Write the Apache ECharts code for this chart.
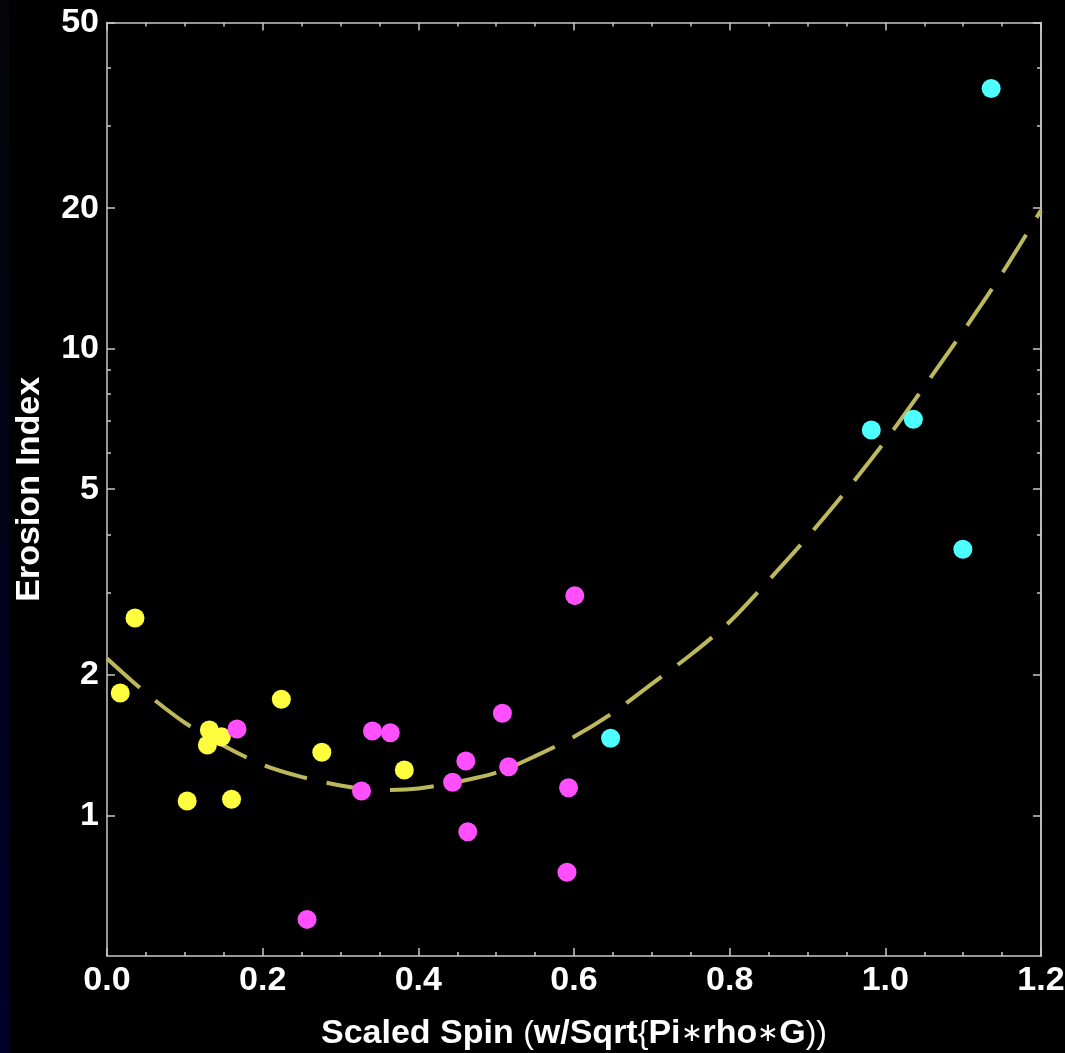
<!DOCTYPE html>
<html><head><meta charset="utf-8">
<script src="https://cdn.jsdelivr.net/npm/echarts@6/dist/echarts.min.js"></script>
<style>html,body{margin:0;padding:0;background:#000}#c{width:1065px;height:1053px}</style>
</head><body><div id="c"></div>
<script>
// ---- data ----
const yMajorTicks = [1, 2, 5, 10, 20, 50];
const yMinorTicks = [3, 4, 6, 7, 8, 9, 30, 40];

const yellowX = [0.017, 0.036, 0.103, 0.160, 0.1315, 0.147, 0.129, 0.224, 0.276, 0.382];
const yellowY = [1.83, 2.65, 1.074, 1.083, 1.525, 1.475, 1.416, 1.774, 1.366, 1.252];

const magentaX = [0.167, 0.341, 0.364, 0.327, 0.257, 0.444, 0.461, 0.4635, 0.508, 0.516, 0.601, 0.593, 0.591];
const magentaY = [1.532, 1.517, 1.504, 1.128, 0.599, 1.178, 1.309, 0.923, 1.656, 1.272, 2.958, 1.147, 0.756];

const cyanX = [0.647, 0.982, 1.036, 1.0996, 1.136];
const cyanY = [1.464, 6.70, 7.06, 3.72, 36.1];

const fitX = [0, 0.05, 0.1, 0.15, 0.2, 0.25, 0.3, 0.35, 0.4, 0.45, 0.5, 0.55, 0.6, 0.65, 0.7, 0.75, 0.8, 0.85, 0.9, 0.95, 1.0, 1.05, 1.1, 1.15, 1.2];
const fitY = [2.17, 1.83, 1.58, 1.41, 1.285, 1.21, 1.16, 1.134, 1.143, 1.18, 1.235, 1.34, 1.475, 1.66, 1.915, 2.21, 2.60, 3.19, 3.95, 4.97, 6.35, 8.3, 10.9, 14.5, 19.8];

const pairs = (xs, ys) => xs.map((x, i) => [x, ys[i]]);

// ---- styles ----
const FRAME = '#c8c8c8';
const FONT = 'Liberation Sans';
const lineStyle = { color: FRAME, width: 1.5 };

function xAx(pos, main) {
  return {
    type: 'value', position: pos, min: 0, max: 1.2, interval: 0.2,
    axisLine: { show: true, onZero: false, lineStyle },
    axisTick: { show: true, inside: true, length: 8, lineStyle },
    minorTick: { show: true, splitNumber: 4, length: 4, lineStyle },
    splitLine: { show: false }, minorSplitLine: { show: false },
    axisLabel: main ? {
      show: true, margin: 8, color: '#fff', fontFamily: FONT, fontWeight: 'bold', fontSize: 34,
      formatter: v => v.toFixed(1)
    } : { show: false },
    name: main ? 'Scaled Spin {p|(}w/Sqrt{p|{}Pi{s|∗}rho{s|∗}G{p|))}' : '',
    nameLocation: 'middle', nameGap: 61,
    nameTextStyle: {
      color: '#fff', fontFamily: FONT, fontWeight: 'bold', fontSize: 34,
      rich: {
        p: { color: '#fff', fontFamily: FONT, fontWeight: 'normal', fontSize: 32 },
        s: { color: '#fff', fontFamily: FONT, fontWeight: 'normal', fontSize: 26 }
      }
    }
  };
}
function yAx(pos, ticks, len, labels, name) {
  return {
    type: 'log', logBase: 10, position: pos, min: 0.5, max: 50,
    axisLine: { show: !!labels || pos === 'right', onZero: false, lineStyle },
    axisTick: { show: true, inside: true, length: len, customValues: ticks, lineStyle },
    splitLine: { show: false },
    axisLabel: labels ? {
      show: true, margin: 8, customValues: ticks, color: '#fff', fontFamily: FONT, fontWeight: 'bold', fontSize: 34,
      formatter: v => String(Math.round(v))
    } : { show: false },
    name: name || '', nameLocation: 'middle', nameGap: 60,
    nameTextStyle: { color: '#fff', fontFamily: FONT, fontWeight: 'bold', fontSize: 34 }
  };
}

const chart = echarts.init(document.getElementById('c'), null, { renderer: 'canvas' });
chart.setOption({
  backgroundColor: '#000',
  animation: false,
  graphic: [{
    type: 'rect', left: 0, top: 0, z: -10,
    shape: { width: 9, height: 1053 },
    style: { fill: new echarts.graphic.LinearGradient(0, 0, 0, 1, [
      { offset: 0, color: '#040408' }, { offset: 1, color: '#00002a' }]) }
  }],
  grid: { left: 107, right: 24, top: 22.5, bottom: 97, containLabel: false, outerBoundsMode: 'none' },
  xAxis: [xAx('bottom', true), xAx('top', false)],
  yAxis: [
    yAx('left', yMajorTicks, 8, true, 'Erosion Index'),
    yAx('left', yMinorTicks, 4, false),
    yAx('right', yMajorTicks, 8, false),
    yAx('right', yMinorTicks, 4, false)
  ],
  series: [
    {
      type: 'line', xAxisIndex: 0, yAxisIndex: 0, data: pairs(fitX, fitY),
      smooth: 0.3, showSymbol: false, z: 1,
      lineStyle: { color: '#bdb85c', width: 4, type: [44, 20], cap: 'butt' }
    },
    { type: 'scatter', xAxisIndex: 0, yAxisIndex: 0, data: pairs(yellowX, yellowY), symbolSize: 19, z: 3,
      itemStyle: { color: '#ffff3f', opacity: 1 } },
    { type: 'scatter', xAxisIndex: 0, yAxisIndex: 0, data: pairs(magentaX, magentaY), symbolSize: 19, z: 3,
      itemStyle: { color: '#ff4fff', opacity: 1 } },
    { type: 'scatter', xAxisIndex: 0, yAxisIndex: 0, data: pairs(cyanX, cyanY), symbolSize: 19, z: 3,
      itemStyle: { color: '#4dffff', opacity: 1 } }
  ]
});
</script></body></html>
